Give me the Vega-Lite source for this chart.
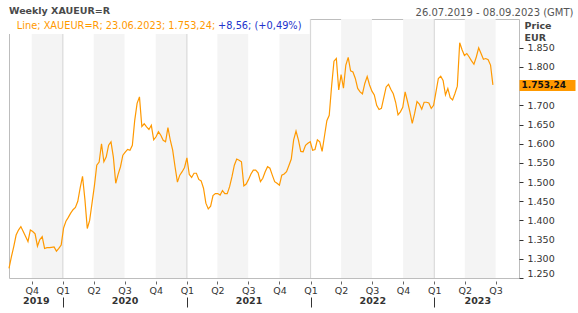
{
  "$schema": "https://vega.github.io/schema/vega-lite/v6.json",
  "width": 510,
  "height": 259,
  "autosize": {"type": "none"},
  "padding": {"left": 9, "top": 19, "right": 59, "bottom": 35},
  "background": "white",
  "title": {"text": "Weekly XAUEUR=R", "anchor": "start", "frame": "group", "fontSize": 9.5, "fontWeight": "bold", "color": "#4a4a4a", "offset": -8},
  "config": {
    "font": "DejaVu Sans",
    "view": {"stroke": "#bdbdbd"},
    "locale": {"number": {"decimal": ",", "thousands": ".", "grouping": [3], "currency": ["", " €"]}}
  },
  "datasets": {
    "bands": [
      {"s": "2019-10-01", "e": "2020-01-01"},
      {"s": "2020-04-01", "e": "2020-07-01"},
      {"s": "2020-10-01", "e": "2021-01-01"},
      {"s": "2021-04-01", "e": "2021-07-01"},
      {"s": "2021-10-01", "e": "2022-01-01"},
      {"s": "2022-04-01", "e": "2022-07-01"},
      {"s": "2022-10-01", "e": "2023-01-01"},
      {"s": "2023-04-01", "e": "2023-07-01"}
    ],
    "years": [
      {"d": "2020-01-01"}, {"d": "2021-01-01"}, {"d": "2022-01-01"}, {"d": "2023-01-01"}
    ],
    "last": [{"d": "2023-06-23", "p": 1753.24}],
    "px": [
      {"d": "2019-07-26", "p": 1275}, {"d": "2019-08-02", "p": 1305}, {"d": "2019-08-09", "p": 1332}, {"d": "2019-08-16", "p": 1362},
      {"d": "2019-08-23", "p": 1375}, {"d": "2019-08-30", "p": 1384}, {"d": "2019-09-06", "p": 1371}, {"d": "2019-09-13", "p": 1358},
      {"d": "2019-09-20", "p": 1345}, {"d": "2019-09-27", "p": 1375}, {"d": "2019-10-04", "p": 1371}, {"d": "2019-10-11", "p": 1365},
      {"d": "2019-10-18", "p": 1333}, {"d": "2019-10-25", "p": 1350}, {"d": "2019-11-01", "p": 1358}, {"d": "2019-11-08", "p": 1327},
      {"d": "2019-11-15", "p": 1329}, {"d": "2019-11-22", "p": 1329}, {"d": "2019-11-29", "p": 1330}, {"d": "2019-12-06", "p": 1331},
      {"d": "2019-12-13", "p": 1320}, {"d": "2019-12-20", "p": 1327}, {"d": "2019-12-27", "p": 1336}, {"d": "2020-01-03", "p": 1380},
      {"d": "2020-01-10", "p": 1398}, {"d": "2020-01-17", "p": 1408}, {"d": "2020-01-24", "p": 1419}, {"d": "2020-01-31", "p": 1428},
      {"d": "2020-02-07", "p": 1434}, {"d": "2020-02-14", "p": 1450}, {"d": "2020-02-21", "p": 1485}, {"d": "2020-02-28", "p": 1515},
      {"d": "2020-03-06", "p": 1455}, {"d": "2020-03-13", "p": 1379}, {"d": "2020-03-20", "p": 1400}, {"d": "2020-03-27", "p": 1445},
      {"d": "2020-04-03", "p": 1490}, {"d": "2020-04-10", "p": 1544}, {"d": "2020-04-17", "p": 1552}, {"d": "2020-04-24", "p": 1600},
      {"d": "2020-05-01", "p": 1553}, {"d": "2020-05-08", "p": 1566}, {"d": "2020-05-15", "p": 1596}, {"d": "2020-05-22", "p": 1605},
      {"d": "2020-05-29", "p": 1565}, {"d": "2020-06-05", "p": 1497}, {"d": "2020-06-12", "p": 1520}, {"d": "2020-06-19", "p": 1540},
      {"d": "2020-06-26", "p": 1570}, {"d": "2020-07-03", "p": 1578}, {"d": "2020-07-10", "p": 1585}, {"d": "2020-07-17", "p": 1583},
      {"d": "2020-07-24", "p": 1596}, {"d": "2020-07-31", "p": 1661}, {"d": "2020-08-07", "p": 1705}, {"d": "2020-08-14", "p": 1722},
      {"d": "2020-08-21", "p": 1645}, {"d": "2020-08-28", "p": 1652}, {"d": "2020-09-04", "p": 1644}, {"d": "2020-09-11", "p": 1637},
      {"d": "2020-09-18", "p": 1648}, {"d": "2020-09-25", "p": 1610}, {"d": "2020-10-02", "p": 1618}, {"d": "2020-10-09", "p": 1631},
      {"d": "2020-10-16", "p": 1622}, {"d": "2020-10-23", "p": 1609}, {"d": "2020-10-30", "p": 1605}, {"d": "2020-11-06", "p": 1642},
      {"d": "2020-11-13", "p": 1609}, {"d": "2020-11-20", "p": 1583}, {"d": "2020-11-27", "p": 1540}, {"d": "2020-12-04", "p": 1500},
      {"d": "2020-12-11", "p": 1518}, {"d": "2020-12-18", "p": 1527}, {"d": "2020-12-25", "p": 1538}, {"d": "2021-01-01", "p": 1563},
      {"d": "2021-01-08", "p": 1520}, {"d": "2021-01-15", "p": 1512}, {"d": "2021-01-22", "p": 1523}, {"d": "2021-01-29", "p": 1523},
      {"d": "2021-02-05", "p": 1507}, {"d": "2021-02-12", "p": 1503}, {"d": "2021-02-19", "p": 1484}, {"d": "2021-02-26", "p": 1445},
      {"d": "2021-03-05", "p": 1430}, {"d": "2021-03-12", "p": 1437}, {"d": "2021-03-19", "p": 1465}, {"d": "2021-03-26", "p": 1470},
      {"d": "2021-04-02", "p": 1470}, {"d": "2021-04-09", "p": 1466}, {"d": "2021-04-16", "p": 1478}, {"d": "2021-04-23", "p": 1470},
      {"d": "2021-04-30", "p": 1470}, {"d": "2021-05-07", "p": 1488}, {"d": "2021-05-14", "p": 1514}, {"d": "2021-05-21", "p": 1544},
      {"d": "2021-05-28", "p": 1560}, {"d": "2021-06-04", "p": 1557}, {"d": "2021-06-11", "p": 1553}, {"d": "2021-06-18", "p": 1490},
      {"d": "2021-06-25", "p": 1495}, {"d": "2021-07-02", "p": 1507}, {"d": "2021-07-09", "p": 1521}, {"d": "2021-07-16", "p": 1531},
      {"d": "2021-07-23", "p": 1531}, {"d": "2021-07-30", "p": 1524}, {"d": "2021-08-06", "p": 1501}, {"d": "2021-08-13", "p": 1510},
      {"d": "2021-08-20", "p": 1527}, {"d": "2021-08-27", "p": 1540}, {"d": "2021-09-03", "p": 1536}, {"d": "2021-09-10", "p": 1518},
      {"d": "2021-09-17", "p": 1501}, {"d": "2021-09-24", "p": 1497}, {"d": "2021-10-01", "p": 1492}, {"d": "2021-10-08", "p": 1518},
      {"d": "2021-10-15", "p": 1521}, {"d": "2021-10-22", "p": 1527}, {"d": "2021-10-29", "p": 1543}, {"d": "2021-11-05", "p": 1560},
      {"d": "2021-11-12", "p": 1610}, {"d": "2021-11-19", "p": 1633}, {"d": "2021-11-26", "p": 1610}, {"d": "2021-12-03", "p": 1580},
      {"d": "2021-12-10", "p": 1579}, {"d": "2021-12-17", "p": 1596}, {"d": "2021-12-24", "p": 1601}, {"d": "2021-12-31", "p": 1605},
      {"d": "2022-01-07", "p": 1583}, {"d": "2022-01-14", "p": 1585}, {"d": "2022-01-21", "p": 1610}, {"d": "2022-01-28", "p": 1605},
      {"d": "2022-02-04", "p": 1580}, {"d": "2022-02-11", "p": 1620}, {"d": "2022-02-18", "p": 1660}, {"d": "2022-02-25", "p": 1674},
      {"d": "2022-03-04", "p": 1750}, {"d": "2022-03-11", "p": 1815}, {"d": "2022-03-18", "p": 1822}, {"d": "2022-03-25", "p": 1740},
      {"d": "2022-04-01", "p": 1780}, {"d": "2022-04-08", "p": 1745}, {"d": "2022-04-15", "p": 1805}, {"d": "2022-04-22", "p": 1825},
      {"d": "2022-04-29", "p": 1790}, {"d": "2022-05-06", "p": 1787}, {"d": "2022-05-13", "p": 1770}, {"d": "2022-05-20", "p": 1744},
      {"d": "2022-05-27", "p": 1735}, {"d": "2022-06-03", "p": 1730}, {"d": "2022-06-10", "p": 1757}, {"d": "2022-06-17", "p": 1775},
      {"d": "2022-06-24", "p": 1753}, {"d": "2022-07-01", "p": 1737}, {"d": "2022-07-08", "p": 1727}, {"d": "2022-07-15", "p": 1700},
      {"d": "2022-07-22", "p": 1689}, {"d": "2022-07-29", "p": 1692}, {"d": "2022-08-05", "p": 1720}, {"d": "2022-08-12", "p": 1748},
      {"d": "2022-08-19", "p": 1755}, {"d": "2022-08-26", "p": 1741}, {"d": "2022-09-02", "p": 1730}, {"d": "2022-09-09", "p": 1708},
      {"d": "2022-09-16", "p": 1675}, {"d": "2022-09-23", "p": 1683}, {"d": "2022-09-30", "p": 1695}, {"d": "2022-10-07", "p": 1735},
      {"d": "2022-10-14", "p": 1710}, {"d": "2022-10-21", "p": 1683}, {"d": "2022-10-28", "p": 1653}, {"d": "2022-11-04", "p": 1679},
      {"d": "2022-11-11", "p": 1710}, {"d": "2022-11-18", "p": 1703}, {"d": "2022-11-25", "p": 1690}, {"d": "2022-12-02", "p": 1708},
      {"d": "2022-12-09", "p": 1708}, {"d": "2022-12-16", "p": 1706}, {"d": "2022-12-23", "p": 1692}, {"d": "2022-12-30", "p": 1700},
      {"d": "2023-01-06", "p": 1735}, {"d": "2023-01-13", "p": 1770}, {"d": "2023-01-20", "p": 1776}, {"d": "2023-01-27", "p": 1765},
      {"d": "2023-02-03", "p": 1727}, {"d": "2023-02-10", "p": 1744}, {"d": "2023-02-17", "p": 1720}, {"d": "2023-02-24", "p": 1714},
      {"d": "2023-03-03", "p": 1731}, {"d": "2023-03-10", "p": 1750}, {"d": "2023-03-17", "p": 1863}, {"d": "2023-03-24", "p": 1845},
      {"d": "2023-03-31", "p": 1830}, {"d": "2023-04-07", "p": 1835}, {"d": "2023-04-14", "p": 1826}, {"d": "2023-04-21", "p": 1816},
      {"d": "2023-04-28", "p": 1807}, {"d": "2023-05-05", "p": 1826}, {"d": "2023-05-12", "p": 1850}, {"d": "2023-05-19", "p": 1835},
      {"d": "2023-05-26", "p": 1820}, {"d": "2023-06-02", "p": 1822}, {"d": "2023-06-09", "p": 1819}, {"d": "2023-06-16", "p": 1805},
      {"d": "2023-06-23", "p": 1753.24}
    ]
  },
  "layer": [
    {
      "data": {"name": "bands"},
      "mark": {"type": "rect", "color": "#f4f4f4"},
      "encoding": {
        "x": {
          "field": "s", "type": "temporal",
          "scale": {"type": "utc", "nice": false, "domain": [{"year": 2019, "month": 7, "date": 26, "utc": true}, {"year": 2023, "month": 9, "date": 8, "utc": true}]},
          "axis": {
            "orient": "bottom", "title": null, "domain": false, "grid": false, "offset": 3, "tickSize": 3, "tickColor": "#666",
            "labelPadding": 1, "labelFontSize": 9.5, "labelColor": "#333", "labelFlush": false, "labelOverlap": false,
            "labelExpr": "'Q' + (floor(utcmonth(datum.value) / 3) + 1)",
            "values": [
              {"year": 2019, "month": 10, "date": 1, "utc": true},
              {"year": 2020, "month": 1, "date": 1, "utc": true}, {"year": 2020, "month": 4, "date": 1, "utc": true},
              {"year": 2020, "month": 7, "date": 1, "utc": true}, {"year": 2020, "month": 10, "date": 1, "utc": true},
              {"year": 2021, "month": 1, "date": 1, "utc": true}, {"year": 2021, "month": 4, "date": 1, "utc": true},
              {"year": 2021, "month": 7, "date": 1, "utc": true}, {"year": 2021, "month": 10, "date": 1, "utc": true},
              {"year": 2022, "month": 1, "date": 1, "utc": true}, {"year": 2022, "month": 4, "date": 1, "utc": true},
              {"year": 2022, "month": 7, "date": 1, "utc": true}, {"year": 2022, "month": 10, "date": 1, "utc": true},
              {"year": 2023, "month": 1, "date": 1, "utc": true}, {"year": 2023, "month": 4, "date": 1, "utc": true},
              {"year": 2023, "month": 7, "date": 1, "utc": true}
            ]
          }
        },
        "x2": {"field": "e"}
      }
    },
    {
      "data": {"name": "years"},
      "mark": {"type": "rule", "color": "#d4d4d4"},
      "encoding": {
        "x": {
          "field": "d", "type": "temporal",
          "scale": {"type": "utc", "nice": false, "domain": [{"year": 2019, "month": 7, "date": 26, "utc": true}, {"year": 2023, "month": 9, "date": 8, "utc": true}]},
          "axis": {
            "orient": "bottom", "title": null, "domain": false, "grid": false, "labels": false, "offset": 19, "tickSize": 10, "tickColor": "#333",
            "values": [
              {"year": 2020, "month": 1, "date": 1, "utc": true}, {"year": 2021, "month": 1, "date": 1, "utc": true},
              {"year": 2022, "month": 1, "date": 1, "utc": true}, {"year": 2023, "month": 1, "date": 1, "utc": true}
            ]
          }
        }
      }
    },
    {
      "data": {"values": [{}]},
      "mark": {"type": "rect", "color": "white"},
      "encoding": {
        "x": {"datum": {"year": 2019, "month": 7, "date": 26, "utc": true}, "type": "temporal", "axis": null},
        "x2": {"datum": {"year": 2021, "month": 12, "date": 29, "utc": true}},
        "y": {"datum": 1925, "type": "quantitative", "axis": null},
        "y2": {"datum": 1886}
      }
    },
    {
      "data": {"name": "px"},
      "mark": {"type": "line", "color": "#ff9900", "strokeWidth": 1.2},
      "encoding": {
        "x": {
          "field": "d", "type": "temporal",
          "scale": {"type": "utc", "nice": false, "domain": [{"year": 2019, "month": 7, "date": 26, "utc": true}, {"year": 2023, "month": 9, "date": 8, "utc": true}]},
          "axis": {
            "orient": "bottom", "title": null, "domain": false, "grid": false, "ticks": false, "tickSize": 0, "offset": 17, "labelPadding": 0,
            "labelBaseline": "top", "labelFontSize": 9.5, "labelFontWeight": "bold", "labelColor": "#333", "labelFlush": false, "labelOverlap": false,
            "labelExpr": "'' + utcyear(datum.value)",
            "values": [
              {"year": 2019, "month": 10, "date": 13, "utc": true}, {"year": 2020, "month": 7, "date": 1, "utc": true},
              {"year": 2021, "month": 7, "date": 2, "utc": true}, {"year": 2022, "month": 7, "date": 2, "utc": true},
              {"year": 2023, "month": 5, "date": 8, "utc": true}
            ]
          }
        },
        "y": {
          "field": "p", "type": "quantitative",
          "scale": {"domain": [1250, 1925], "nice": false, "zero": false},
          "axis": {
            "orient": "right", "domain": false, "grid": false, "tickSize": 4, "tickColor": "#333", "labelPadding": 4,
            "labelFontSize": 9.5, "labelColor": "#333", "labelFlush": true, "labelOverlap": false, "format": ",.0f",
            "values": [1250, 1300, 1350, 1400, 1450, 1500, 1550, 1600, 1650, 1700, 1800, 1850],
            "title": ["Price", "EUR"], "titleAngle": 0, "titleAlign": "left", "titleBaseline": "top", "titleX": 5, "titleY": 1,
            "titleFontSize": 9.5, "titleFontWeight": "bold", "titleColor": "#444", "titleLineHeight": 12.5
          }
        }
      }
    },
    {
      "data": {"name": "last"},
      "mark": {"type": "point", "opacity": 0},
      "encoding": {
        "x": {
          "field": "d", "type": "temporal",
          "scale": {"type": "utc", "nice": false, "domain": [{"year": 2019, "month": 7, "date": 26, "utc": true}, {"year": 2023, "month": 9, "date": 8, "utc": true}]},
          "axis": {
            "orient": "top", "domain": false, "grid": false, "ticks": false, "labels": false,
            "title": "26.07.2019 - 08.09.2023 (GMT)", "titleX": 564, "titleY": -7, "titleAlign": "right", "titleBaseline": "middle",
            "titleFontSize": 10, "titleFontWeight": "normal", "titleColor": "#555"
          }
        },
        "y": {
          "field": "p", "type": "quantitative",
          "scale": {"domain": [1250, 1925], "nice": false, "zero": false},
          "axis": {
            "orient": "right", "domain": false, "grid": false, "title": null, "values": [1753.24], "format": ",.2f",
            "tickSize": 56, "tickWidth": 11, "tickColor": "#ff9900", "labelPadding": -54, "labelFlush": false,
            "labelFontSize": 9, "labelFontWeight": "bold", "labelColor": "#111"
          }
        }
      }
    },
    {
      "data": {"values": [{}]},
      "mark": {"type": "text", "align": "left", "baseline": "middle", "color": "#ff9900", "fontSize": 9.8, "text": "Line; XAUEUR=R; 23.06.2023; 1.753,24;"},
      "encoding": {
        "x": {"datum": {"year": 2019, "month": 8, "date": 18, "utc": true}, "type": "temporal", "axis": null},
        "y": {"datum": 1906.8, "type": "quantitative", "axis": null}
      }
    },
    {
      "data": {"values": [{}]},
      "mark": {"type": "text", "align": "left", "baseline": "middle", "color": "#2233cc", "fontSize": 9.8, "text": "+8,56; (+0,49%)"},
      "encoding": {
        "x": {"datum": {"year": 2021, "month": 4, "date": 3, "utc": true}, "type": "temporal", "axis": null},
        "y": {"datum": 1906.8, "type": "quantitative", "axis": null}
      }
    }
  ],
  "resolve": {"axis": {"x": "independent", "y": "independent"}}
}
